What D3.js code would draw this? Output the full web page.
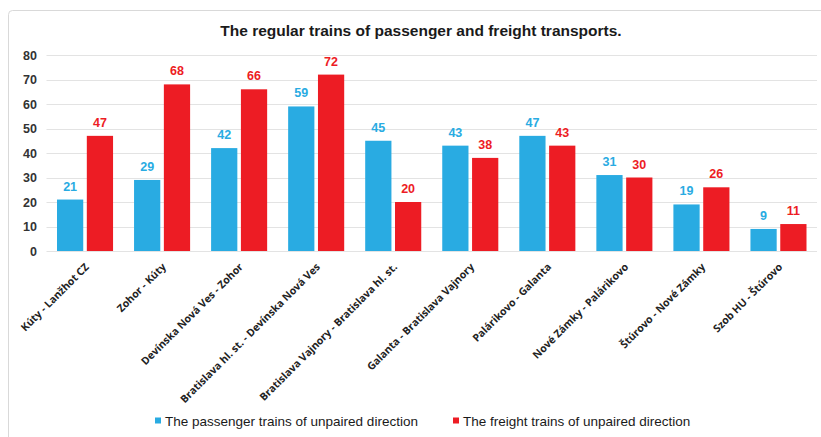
<!DOCTYPE html>
<html>
<head>
<meta charset="utf-8">
<script src="https://cdn.jsdelivr.net/npm/d3@7"></script>
<style>
body{margin:0;background:#fff;}
svg text{font-family:"Liberation Sans",Arial,sans-serif;}
.cat text{font-family:"Open Sans","DejaVu Sans",sans-serif;}
</style>
</head>
<body>
<svg id="chart"></svg>
<script>
var categories = ["Kúty - Lanžhot CZ","Zohor - Kúty","Devínska Nová Ves - Zohor",
  "Bratislava hl. st. - Devínska Nová Ves","Bratislava Vajnory - Bratislava hl. st.",
  "Galanta - Bratislava Vajnory","Palárikovo - Galanta","Nové Zámky - Palárikovo",
  "Štúrovo - Nové Zámky","Szob HU - Štúrovo"];
var passenger = [21,29,42,59,45,43,47,31,19,9];
var freight = [47,68,66,72,20,38,43,30,26,11];
var seriesNames = ["The passenger trains of unpaired direction","The freight trains of unpaired direction"];
var yTicks = [0,10,20,30,40,50,60,70,80];

var screen = {width:821, height:437};
var colors = ["#29abe2","#ed1c24"];

var svg = d3.select("#chart")
    .attr("width",screen.width)
    .attr("height",screen.height)

//frame round the chart
svg.append("rect")
    .attr("x",8.5).attr("y",10.5)
    .attr("width",830).attr("height",450)
    .attr("rx",4)
    .attr("fill","none")
    .attr("stroke","#d9d9d9")

svg.append("text")
    .text("The regular trains of passenger and freight transports.")
    .attr("x",421).attr("y",36)
    .attr("text-anchor","middle")
    .attr("font-size",15.5)
    .attr("font-weight","bold")
    .attr("fill","#1a1a1a")

var xScale = d3.scaleBand()
    .domain(categories)
    .range([46.5,817])

var yScale = d3.scaleLinear()
    .domain([0,80])
    .range([251,55])

var inner = d3.scaleBand()
    .domain([0,1])
    .range([10.5,xScale.bandwidth()-10.5])
    .paddingInner(0.12)

//gridlines
svg.append("g")
    .selectAll("line")
    .data(yTicks)
    .enter()
    .append("line")
    .attr("x1",46.5).attr("x2",817)
    .attr("y1",function(d){return Math.round(yScale(d))+0.5})
    .attr("y2",function(d){return Math.round(yScale(d))+0.5})
    .attr("stroke","#e3e3e3")
    .attr("stroke-width",1.2)

var yAxis = d3.axisLeft(yScale).tickValues(yTicks).tickSize(0).tickPadding(0);
var ya = svg.append("g")
    .attr("transform","translate(37,0)")
    .call(yAxis)
ya.select(".domain").remove();
ya.selectAll("text")
    .attr("font-size",12.5)
    .attr("font-weight","bold")
    .attr("fill","#333")

var xAxis = d3.axisBottom(xScale).tickSize(0).tickPadding(0);
var xa = svg.append("g")
    .classed("cat",true)
    .attr("transform","translate(2,265)")
    .call(xAxis)
xa.select(".domain").remove();
xa.selectAll("text")
    .attr("font-size",10.5)
    .attr("font-weight","bold")
    .attr("fill","#222")
    .attr("text-anchor","end")
    .attr("dy","0.35em")
    .attr("transform","rotate(-45)")

var rows = categories.map(function(c,i){return {cat:c, vals:[passenger[i],freight[i]]}});

var groups = svg.append("g")
    .selectAll("g")
    .data(rows)
    .enter()
    .append("g")
    .attr("transform",function(d){return "translate("+xScale(d.cat)+",0)"})

groups.selectAll("rect")
    .data(function(d){return d.vals})
    .enter()
    .append("rect")
    .attr("x",function(v,i){return inner(i)})
    .attr("width",inner.bandwidth())
    .attr("y",function(v){return yScale(v)})
    .attr("height",function(v){return yScale(0)-yScale(v)})
    .attr("fill",function(v,i){return colors[i]})

groups.selectAll("text")
    .data(function(d){return d.vals})
    .enter()
    .append("text")
    .text(function(v){return v})
    .attr("x",function(v,i){return inner(i)+inner.bandwidth()/2})
    .attr("y",function(v){return yScale(v)-9})
    .attr("text-anchor","middle")
    .attr("font-size",12.5)
    .attr("font-weight","bold")
    .attr("fill",function(v,i){return colors[i]})

//legend
var legendX = [155,453];
var legend = svg.append("g")
    .selectAll("g")
    .data(seriesNames)
    .enter()
    .append("g")
    .attr("transform",function(d,i){return "translate("+legendX[i]+",421)"})
legend.append("rect")
    .attr("x",0).attr("y",-3.5)
    .attr("width",6).attr("height",6)
    .attr("fill",function(d,i){return colors[i]})
legend.append("text")
    .text(function(d){return d})
    .attr("x",10).attr("y",5)
    .attr("font-size",13.5)
    .attr("fill","#1a1a1a")
</script>
</body>
</html>
